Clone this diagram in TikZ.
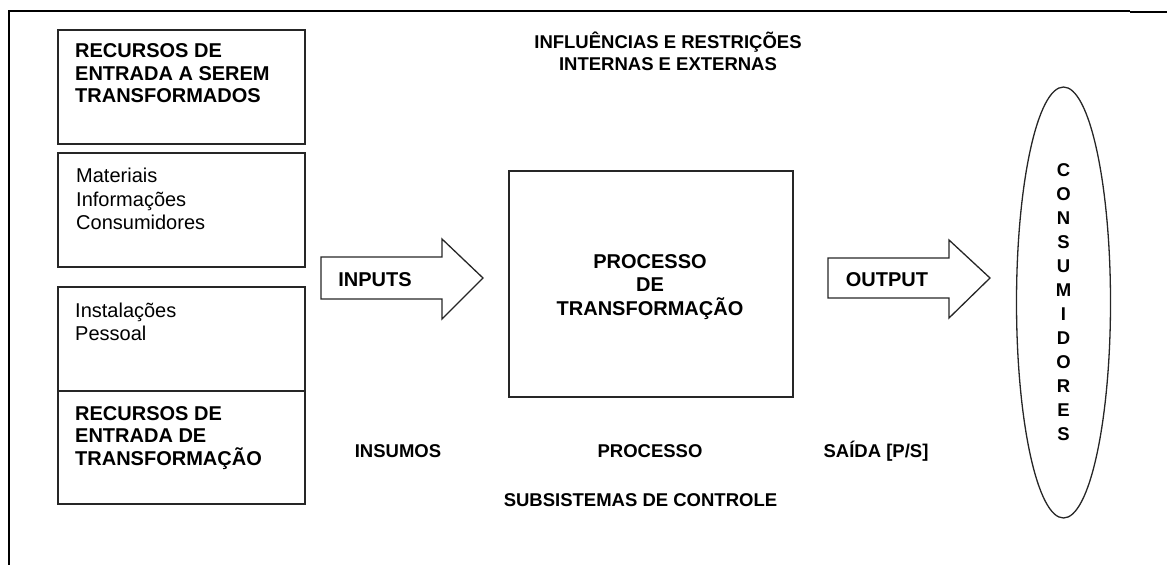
\documentclass[tikz,border=0pt]{standalone}
\usepackage{fontspec}
\setmainfont{Liberation Sans}
\usetikzlibrary{shapes.geometric}
\tikzset{
  caixa/.style={draw=black!85, line width=1.3pt},
  rotulo/.style={font=\bfseries\fontsize{18.5}{21.7}\selectfont, inner sep=0pt, align=center},
  titulo/.style={font=\bfseries\fontsize{20}{22.5}\selectfont, inner sep=0pt, align=left},
  lista/.style={font=\fontsize{20}{23.5}\selectfont, inner sep=0pt, align=left},
}
\begin{document}
\begin{tikzpicture}[x=1pt,y=-1pt]
                \useasboundingbox (0,0) rectangle (1167,565);
                % moldura
                \draw[line width=1.3pt] (9,11) -- (1130,11);
                \draw[line width=2.6pt] (8,11) -- (55,11);
                \draw[line width=2.6pt] (1130,12) -- (1167,12);
                \draw[line width=2.2pt] (9,11) -- (9,565);
                % recursos a serem transformados
                \node[caixa, minimum width=247pt, minimum height=114pt] (aSerem) at (181.5,87) {};
                \node[titulo, anchor=north west] (aSeremT) at (75,43.5) {RECURSOS DE\\ENTRADA A SEREM\\TRANSFORMADOS};
                \node[caixa, minimum width=247pt, minimum height=114pt] (materiais) at (181.5,210) {};
                \node[lista, anchor=north west] (materiaisT) at (76,168) {Materiais\\Informações\\Consumidores};
                % recursos de transformacao
                \node[caixa, minimum width=247pt, minimum height=104pt] (instal) at (181.5,339) {};
                \node[lista, anchor=north west] (instalT) at (75,302.5) {Instalações\\Pessoal};
                \node[caixa, minimum width=247pt, minimum height=113pt] (deTransf) at (181.5,447.5) {};
                \node[titulo, anchor=north west] (deTransfT) at (75,406) {RECURSOS DE\\ENTRADA DE\\TRANSFORMAÇÃO};
                % setas
                \draw[caixa] (321,257) -- (442,257) -- (442,239) -- (483,278) -- (442,319) -- (442,299) -- (321,299) -- cycle;
                \node[titulo] (inputs) at (375,280) {INPUTS};
                \draw[caixa] (828,258) -- (949,258) -- (949,240) -- (990,278) -- (949,318) -- (949,298) -- (828,298) -- cycle;
                \node[titulo] (output) at (887,280) {OUTPUT};
                % processo
                \node[caixa, minimum width=284pt, minimum height=226pt] (processo) at (651,284) {};
                \node[titulo, align=center, font=\bfseries\fontsize{20}{23.5}\selectfont] (processoT) at (650,287) {PROCESSO\\DE\\TRANSFORMAÇÃO};
                \node[caixa, ellipse, inner sep=0pt, minimum width=94pt, minimum height=431pt,
                      font=\bfseries\fontsize{18.5}{24}\selectfont, align=center] (consumidores) at (1063.5,302.5)
                      {C\\O\\N\\S\\U\\M\\I\\D\\O\\R\\E\\S};
                % rotulos
                \node[rotulo] (influencias) at (668,51) {INFLUÊNCIAS E RESTRIÇÕES\\INTERNAS E EXTERNAS};
                \node[rotulo] (insumos) at (398,451) {INSUMOS};
                \node[rotulo] (processoR) at (650,451) {PROCESSO};
                \node[rotulo] (saida) at (876,451) {SAÍDA [P/S]};
                \node[rotulo] (controle) at (640.5,500.5) {SUBSISTEMAS DE CONTROLE};
            \end{tikzpicture}
\end{document}
